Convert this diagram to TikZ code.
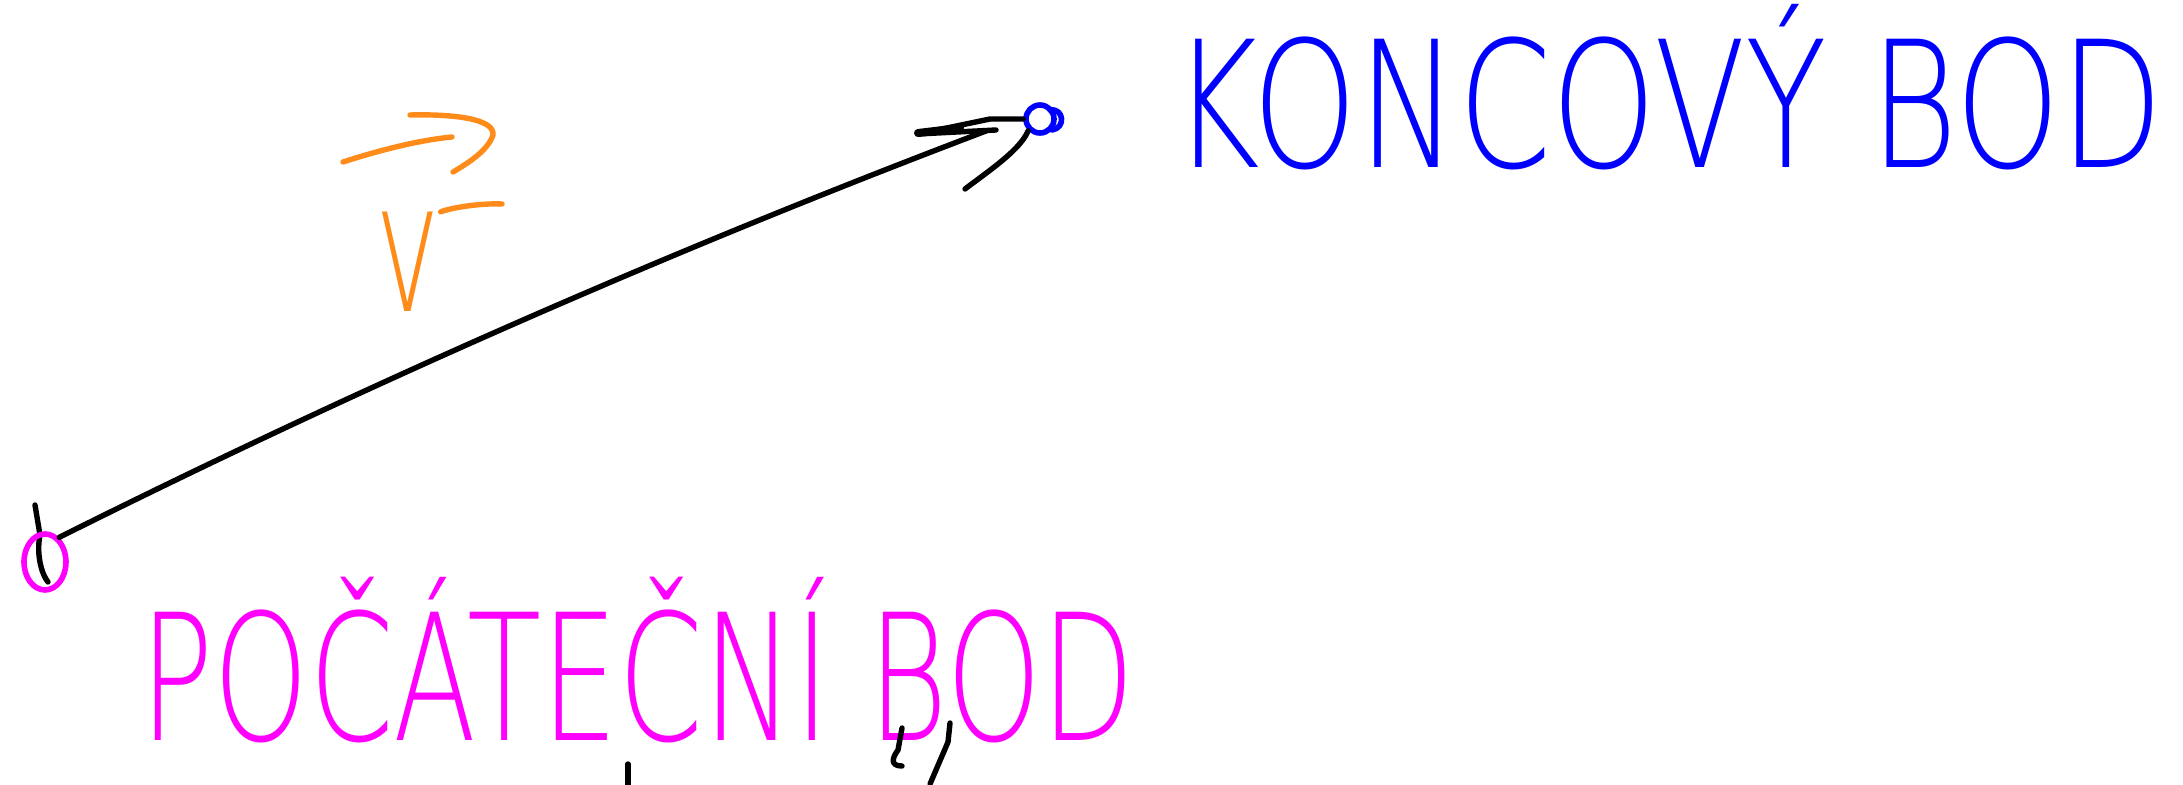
\documentclass[tikz,border=0pt]{standalone}
\usepackage{fontspec}
\newfontfamily\handfont{DejaVu Sans ExtraLight}
\usetikzlibrary{shapes.geometric}
\definecolor{inkblue}{RGB}{0,0,255}
\definecolor{inkmagenta}{RGB}{255,0,255}
\definecolor{inkorange}{RGB}{255,140,26}
\begin{document}
\begin{tikzpicture}[x=0.5pt,y=-0.5pt,line cap=round,line join=round,
  pen/.style={line width=2.7pt},
  dot/.style={draw,line width=2.8pt,inner sep=0pt},
  label/.style={anchor=base west,inner sep=0pt}]
\useasboundingbox[fill=white] (0,0) rectangle (2183,785);

% end points of the vector
\draw[pen,black] (35,505) -- (40,535) .. controls (36,555) and (42,575) .. (48,582);
\node[dot,ellipse,draw=inkmagenta,minimum width=21pt,minimum height=28pt] (start) at (45,562) {};
\node[dot,circle,draw=inkblue,minimum size=14pt] (end) at (1040,119) {};
\draw[inkblue,line width=2.8pt] (1050,110) .. controls (1064,108) and (1066,128) .. (1052,130);

% shaft of the vector
\coordinate (tip) at (986,131);
\draw[pen,black] (start.60) .. controls (362,386) and (672,250) .. (tip);
% hand-drawn arrowhead
\draw[pen,black] (end.west) -- (990,119) -- (918,134) -- (996,130);
\draw[line width=4pt,black] (918,133) -- (960,128);
\draw[pen,black] (end.south west) .. controls (1020,150) and (990,170) .. (965,189);

% vector name
\node[inner sep=0pt,text=inkorange,font=\handfont\fontsize{91}{91}\selectfont] (vname) at (408,262) {\scalebox{0.6}[1]{v}};
\draw[pen,inkorange] (343,162) .. controls (380,150) and (420,140) .. (452,137);
\draw[pen,inkorange] (410,115) .. controls (450,114) and (495,118) .. (493,135) .. controls (488,150) and (470,162) .. (453,172);
\draw[pen,inkorange] (vname.north east) .. controls (450,208) and (480,203) .. (502,204);

% point labels
\node[label,text=inkblue,font=\handfont\fontsize{88}{88}\selectfont] (endname) at (1172,168) {\scalebox{0.76}[1]{KONCOVÝ BOD}};
\node[label,text=inkmagenta,font=\handfont\fontsize{88}{88}\selectfont] (startname) at (140,740) {\scalebox{0.69}[1]{POČÁTEČNÍ BOD}};

% stray pen strokes
\draw[pen,black] (628,764) -- (628,785);
\draw[pen,black] (902,728) -- (898,750) .. controls (892,758) and (890,766) .. (902,766);
\draw[pen,black] (950,723) -- (948,742) -- (930,784);
\end{tikzpicture}
\end{document}
